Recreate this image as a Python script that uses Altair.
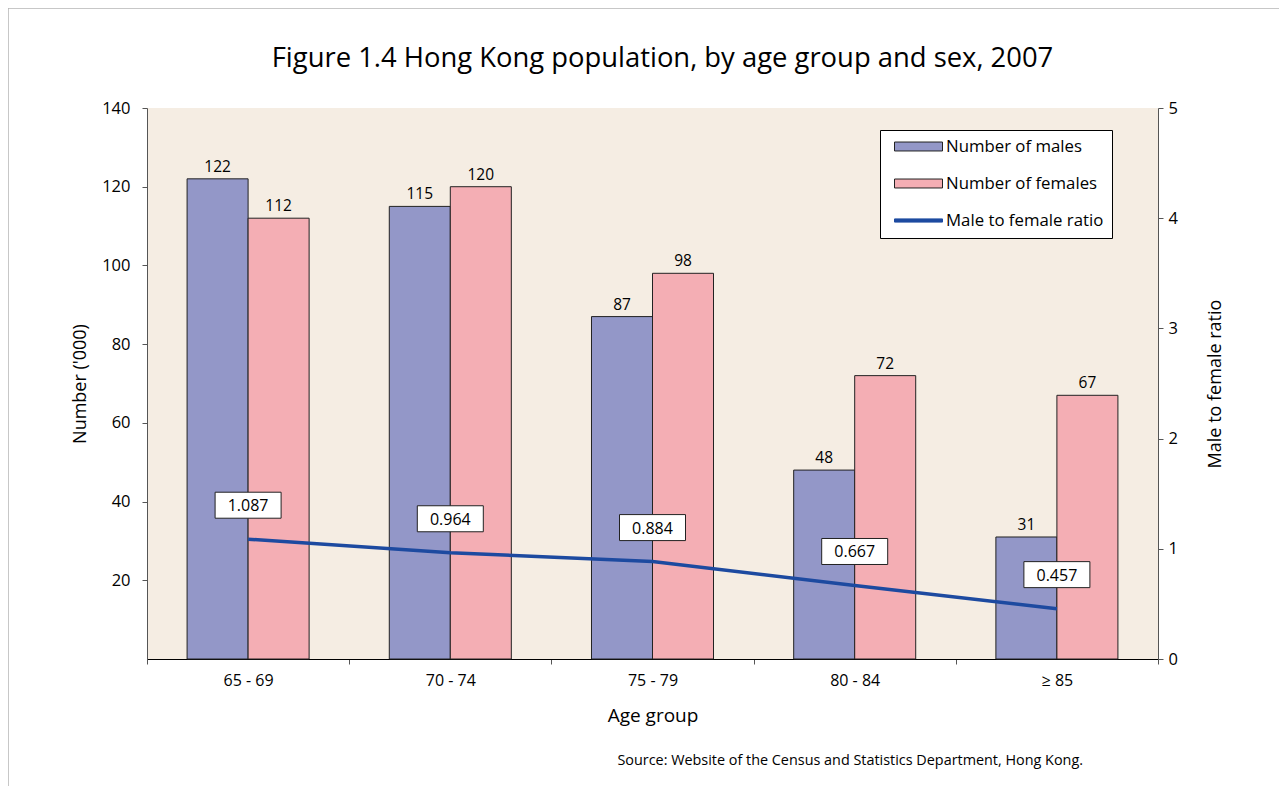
import altair as alt
import pandas as pd

ages = ["65 - 69", "70 - 74", "75 - 79", "80 - 84", "\u2265 85"]
males = [122, 115, 87, 48, 31]
females = [112, 120, 98, 72, 67]
ratio = [1.087, 0.964, 0.884, 0.667, 0.457]
ratio_labels = ["1.087", "0.964", "0.884", "0.667", "0.457"]

S_M = "Number of males"
S_F = "Number of females"
S_R = "Male to female ratio"

TITLE = "Figure 1.4 Hong Kong population, by age group and sex, 2007"
SOURCE = "Source: Website of the Census and Statistics Department, Hong Kong."

FONT = "Open Sans"
C_M = "#9397c8"
C_F = "#f4aeb4"
C_R = "#1d4aa0"

bars_df = pd.DataFrame(
    [{"age": a, "series": S_M, "value": m} for a, m in zip(ages, males)]
    + [{"age": a, "series": S_F, "value": f} for a, f in zip(ages, females)]
)
ratio_df = pd.DataFrame({"age": ages, "ratio": ratio, "label": ratio_labels})

W, H = 1011, 551

xscale = alt.Scale(domain=ages, paddingInner=0, paddingOuter=0)
xoff_scale = alt.Scale(domain=[S_M, S_F], paddingInner=0, paddingOuter=0.657)
color_scale = alt.Scale(domain=[S_M, S_F, S_R], range=[C_M, C_F, C_R])

legend = alt.Legend(
    title=None,
    orient="none",
    legendX=733,
    legendY=22,
    fillColor="white",
    strokeColor="black",
    padding=8,
    labelFont=FONT,
    labelFontSize=16.8,
    labelColor="black",
    labelOffset=19,
    symbolOffset=22,
    symbolSize=256,
    rowPadding=19,
    symbolOpacity=1,
    symbolStrokeWidth=1,
    symbolType=alt.ExprRef(
        "datum.value === 'Male to female ratio' ? 'M-3,-0.2L3,-0.2L3,0.2L-3,0.2Z' : 'M-3,-0.56L3,-0.56L3,0.56L-3,0.56Z'"
    ),
    symbolStrokeColor=alt.ExprRef(
        "datum.value === 'Male to female ratio' ? '#1d4aa0' : '#222222'"
    ),
)

x_enc = alt.X(
    "age:N",
    scale=xscale,
    sort=ages,
    axis=alt.Axis(
        title="Age group",
        titleFont=FONT,
        titleFontSize=19,
        titleFontWeight="normal",
        titleColor="black",
        titlePadding=18,
        labelFont=FONT,
        labelFontSize=16,
        labelColor="black",
        labelAngle=0,
        labelPadding=8,
        tickBand="extent",
        tickSize=5,
        tickColor="#555555",
        domainColor="black",
        grid=False,
    ),
)

y_left = alt.Y(
    "value:Q",
    scale=alt.Scale(domain=[0, 140]),
    axis=alt.Axis(
        title="Number ('000)",
        values=[20, 40, 60, 80, 100, 120, 140],
        titleFont=FONT,
        titleFontSize=18,
        titleFontWeight="normal",
        titleColor="black",
        titlePadding=12,
        labelFont=FONT,
        labelFontSize=16.5,
        labelColor="black",
        labelPadding=12,
        tickSize=5,
        tickColor="#555555",
        domainColor="#555555",
        grid=False,
    ),
)

bars = alt.Chart(bars_df).mark_bar(strokeWidth=1, opacity=1).encode(
    x=x_enc,
    xOffset=alt.XOffset("series:N", sort=[S_M, S_F], scale=xoff_scale),
    y=y_left,
    color=alt.Color("series:N", scale=color_scale, legend=legend),
    stroke=alt.value("#222222"),
)

bar_labels = alt.Chart(bars_df).mark_text(
    font=FONT, fontSize=15.5, baseline="bottom", dy=-4, color="black"
).encode(
    x=alt.X("age:N", scale=xscale, sort=ages),
    xOffset=alt.XOffset("series:N", sort=[S_M, S_F], scale=xoff_scale),
    y=alt.Y("value:Q", scale=alt.Scale(domain=[0, 140])),
    text="value:Q",
)

y_right = alt.Y(
    "ratio:Q",
    scale=alt.Scale(domain=[0, 5]),
    axis=alt.Axis(
        orient="right",
        title="Male to female ratio",
        values=[0, 1, 2, 3, 4, 5],
        format="d",
        titleFont=FONT,
        titleFontSize=18,
        titleFontWeight="normal",
        titleColor="black",
        titleAngle=270,
        titlePadding=47,
        labelFont=FONT,
        labelFontSize=16.5,
        labelColor="black",
        labelPadding=5,
        tickSize=5,
        tickColor="#555555",
        domainColor="#555555",
        grid=False,
    ),
)

line = alt.Chart(ratio_df).mark_line(strokeWidth=3.5, color=C_R).encode(
    x=alt.X("age:N", scale=xscale, sort=ages),
    y=y_right,
)

box_shape = "M-1,-0.394L1,-0.394L1,0.394L-1,0.394Z"
boxes = alt.Chart(ratio_df).mark_point(
    shape=box_shape, size=4356, filled=True, fill="white", stroke="#222222",
    strokeWidth=1, opacity=1, yOffset=-34
).encode(
    x=alt.X("age:N", scale=xscale, sort=ages),
    y=alt.Y("ratio:Q", scale=alt.Scale(domain=[0, 5])),
)

box_text = alt.Chart(ratio_df).mark_text(
    font=FONT, fontSize=16, color="black", baseline="middle", yOffset=-33
).encode(
    x=alt.X("age:N", scale=xscale, sort=ages),
    y=alt.Y("ratio:Q", scale=alt.Scale(domain=[0, 5])),
    text="label:N",
)

texts_df = pd.DataFrame({"t": [SOURCE]})
source = alt.Chart(texts_df).mark_text(
    font=FONT, fontSize=14.4, color="black", align="right", baseline="middle"
).encode(
    x=alt.value(936),
    y=alt.value(653),
    text="t:N",
)

title_df = pd.DataFrame({"t": [TITLE]})
title = alt.Chart(title_df).mark_text(
    font=FONT, fontSize=27.4, color="black", align="center", baseline="alphabetic"
).encode(
    x=alt.value(W / 2 + 10),
    y=alt.value(-41),
    text="t:N",
)

frame = alt.Chart(pd.DataFrame({"f": [0]})).mark_rect(
    fill=None, fillOpacity=0, stroke="#b5b5b5", strokeWidth=1.5
).encode(
    x=alt.value(-139),
    x2=alt.value(W + 200),
    y=alt.value(-100),
    y2=alt.value(H + 200),
)

left = alt.layer(bars, bar_labels)
right = alt.layer(line, boxes, box_text)

chart = alt.layer(left, right, source, title, frame).resolve_scale(y="independent").properties(
    width=W,
    height=H,
    autosize=alt.AutoSizeParams(type="none"),
    padding={"left": 139, "top": 100, "right": 121, "bottom": 127},
    background="white",
).configure_view(
    fill="#f5ede3", stroke=None
)

chart.save("out.html", embed_options={"renderer": "svg", "actions": False})
